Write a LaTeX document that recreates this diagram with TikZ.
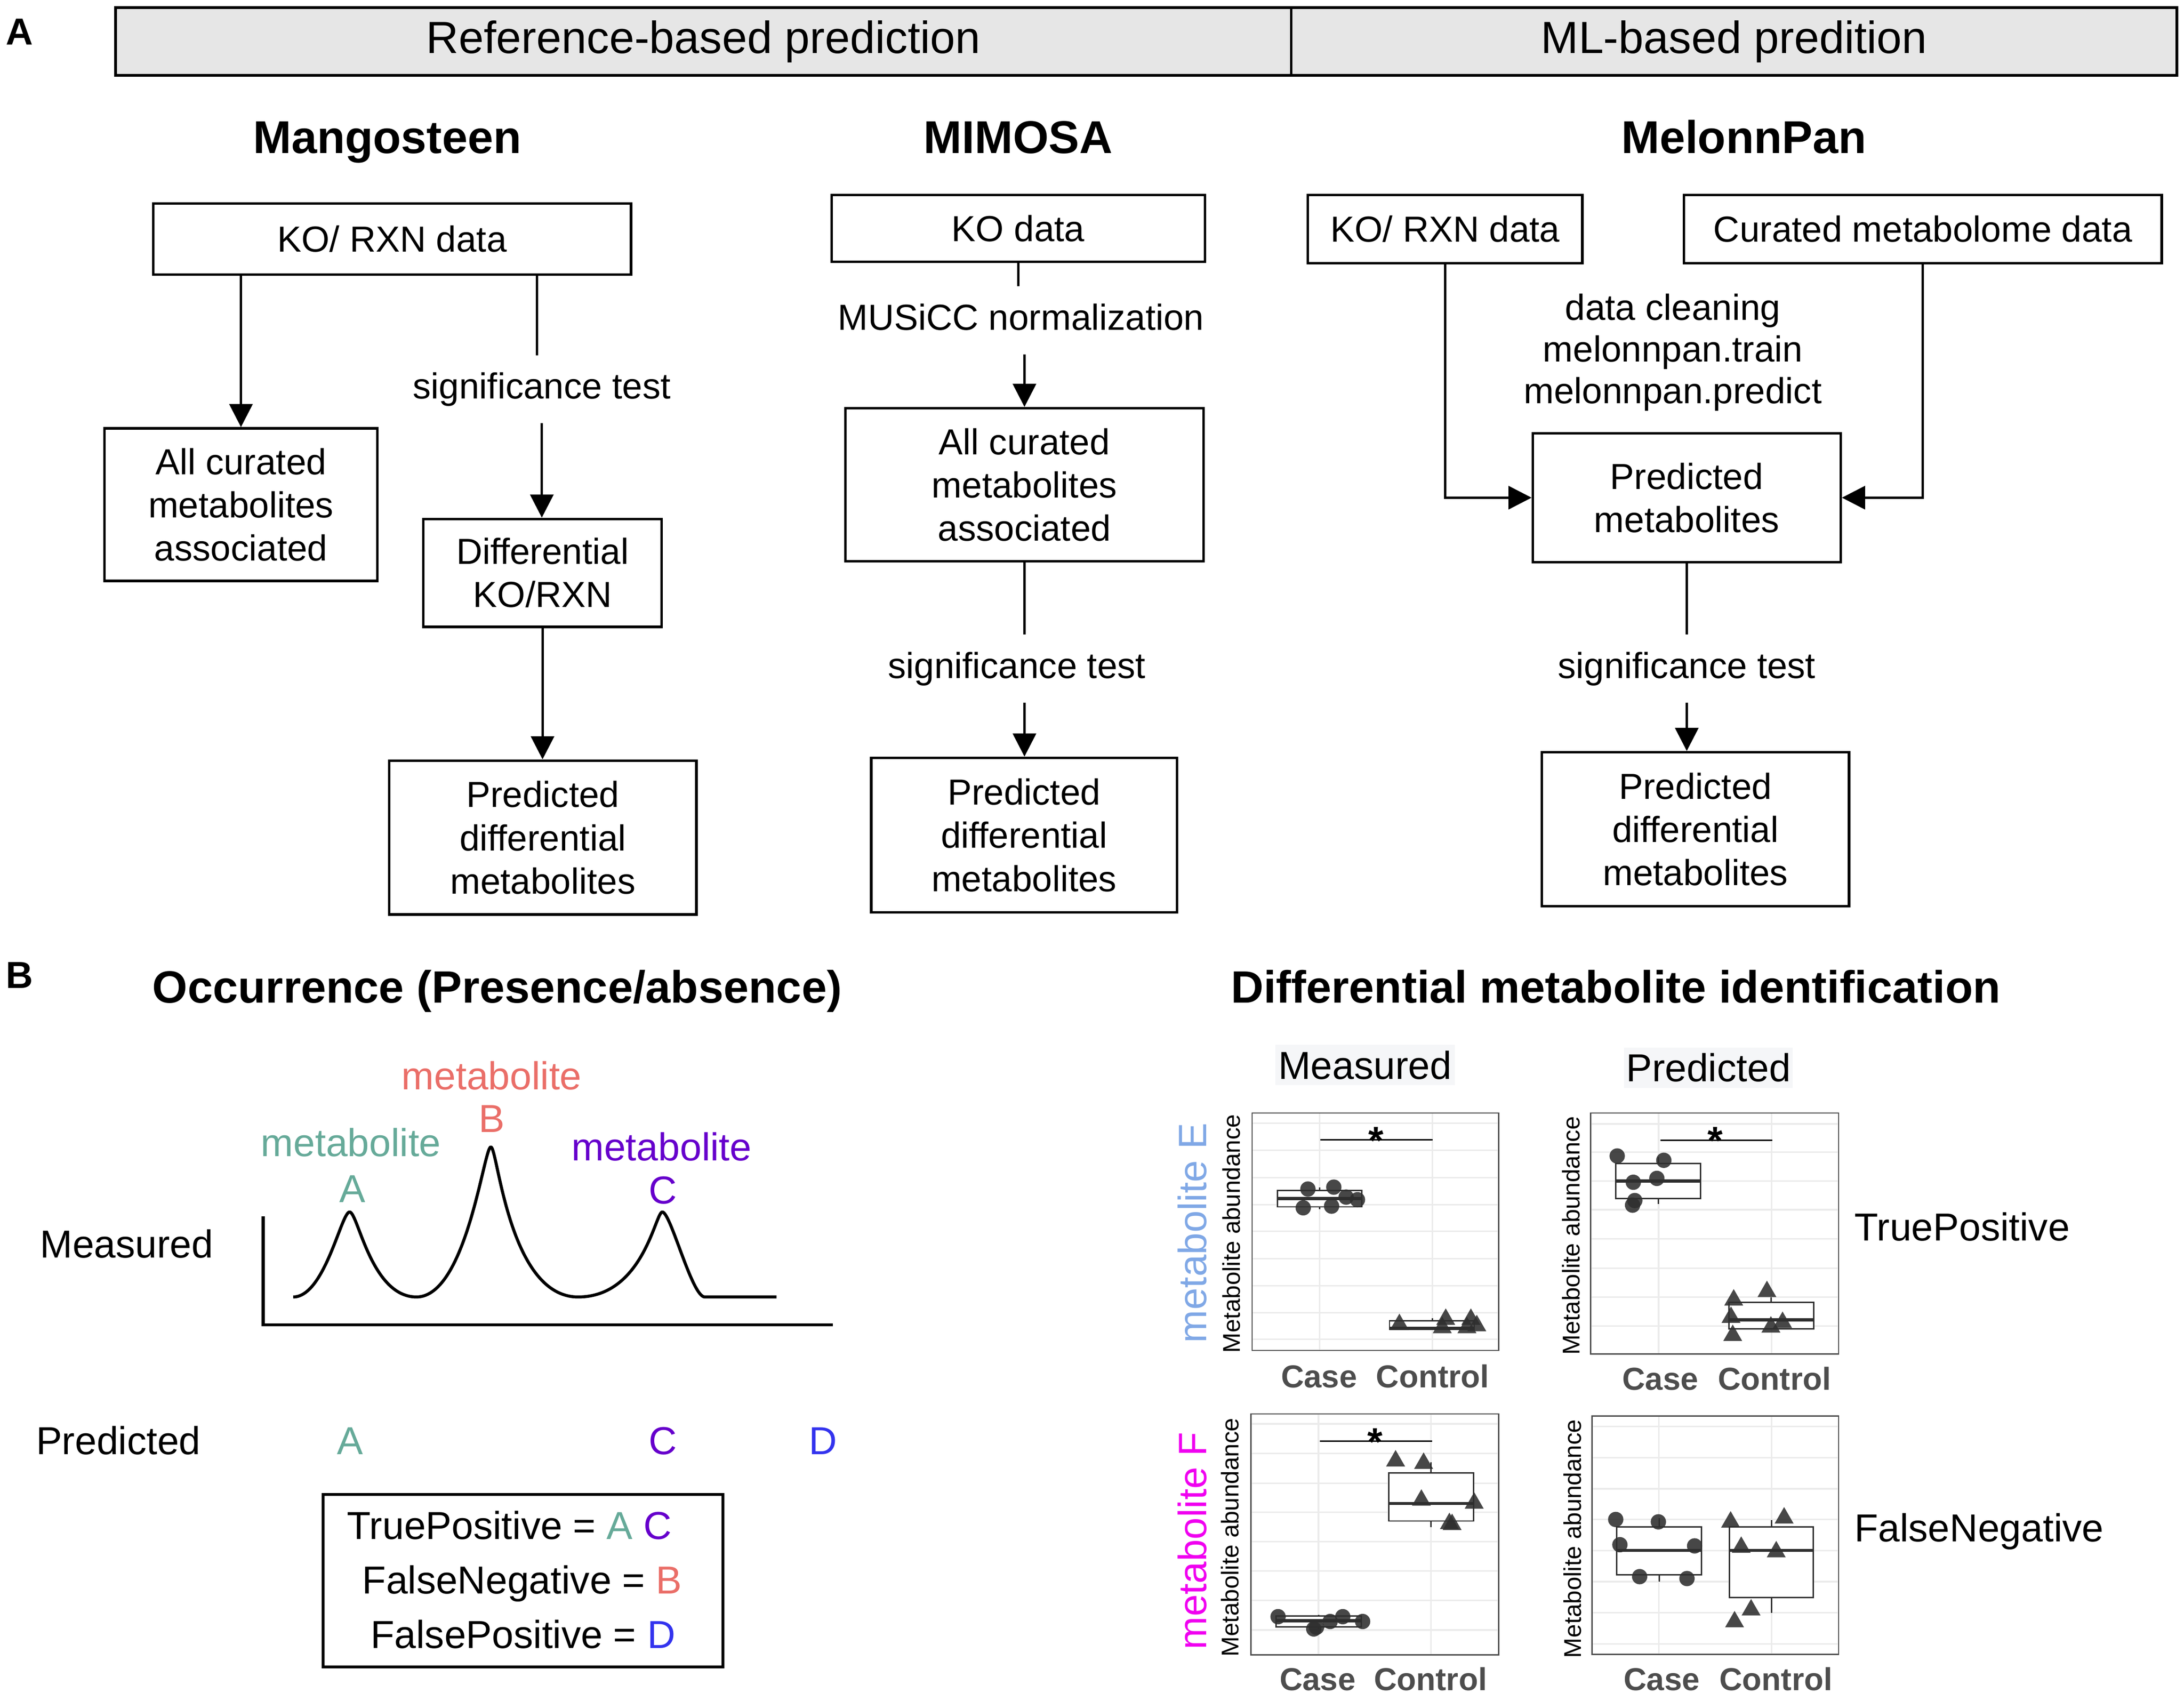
\documentclass[tikz,border=0pt]{standalone}
\usepackage{fontspec}
\setmainfont{Liberation Sans}
\usetikzlibrary{arrows.meta}
\definecolor{hdrgray}{HTML}{E6E6E6}
\definecolor{cteal}{HTML}{66AA99}
\definecolor{csalmon}{HTML}{EA6E68}
\definecolor{cpurple}{HTML}{6600CC}
\definecolor{cblue}{HTML}{3333EE}
\definecolor{cmetE}{HTML}{80A8E6}
\definecolor{cmetF}{HTML}{F000F0}
\definecolor{axgray}{HTML}{4D4D4D}
\definecolor{gridc}{HTML}{EBEBEB}
\definecolor{framec}{HTML}{4D4D4D}
\definecolor{bgfaint}{HTML}{F5F6F8}
\definecolor{ptc}{HTML}{2E2E2E}
\begin{document}
\begin{tikzpicture}[x=0.5pt, y=-0.5pt,
  fbox/.style={draw, line width=0.9pt, align=center, inner sep=0pt, font=\fontsize{13}{15.5}\selectfont},
  hdrbox/.style={draw, line width=1pt, fill=hdrgray, inner sep=0pt, minimum height=24.25pt, font=\fontsize{16.2}{19}\selectfont},
  ttl/.style={anchor=base, font=\bfseries\fontsize{16.5}{19}\selectfont},
  lbl/.style={font=\fontsize{13}{15}\selectfont, text height=9.5pt, text depth=2.7pt, inner xsep=0pt, inner ysep=5.9pt},
  arr/.style={-{Triangle[length=8.3pt,width=8.3pt]}, line width=0.9pt},
  conn/.style={line width=0.9pt},
  pnl/.style={font=\bfseries\fontsize{13.5}{16}\selectfont, inner sep=0pt},
  btxt/.style={anchor=base, inner sep=0pt, font=\fontsize{14}{17}\selectfont},
  btitle/.style={anchor=base, inner sep=0pt, font=\bfseries\fontsize{16.25}{19}\selectfont},
  curve/.style={line width=1.1pt, line join=round},
  grid/.style={draw=gridc, line width=0.55pt},
  frame/.style={draw=framec, line width=0.45pt},
  bx/.style={draw=ptc, line width=0.5pt},
  bxfill/.style={draw=ptc, fill=white, line width=0.5pt},
  med/.style={draw=ptc, line width=1.1pt},
  mk/.style={fill=ptc, fill opacity=0.88},
  sigbar/.style={draw=black, line width=0.6pt},
  star/.style={inner sep=0pt, font=\bfseries\fontsize{14}{16}\selectfont},
  cc/.style={anchor=base, inner sep=0pt, text=axgray, font=\bfseries\fontsize{11.4}{13}\selectfont},
  yab/.style={rotate=90, inner sep=0pt, font=\fontsize{8.7}{10}\selectfont},
  metlab/.style={rotate=90, inner sep=0pt, font=\fontsize{14.2}{17}\selectfont},
  colhead/.style={fill=bgfaint, inner sep=0pt, minimum height=14.5pt, font=\fontsize{14}{17}\selectfont}
]
\useasboundingbox (0,0) rectangle (1568,1215.29);

% ---------------- Panel A ----------------
\node[pnl] (lblA) at (14,23) {A};
\node[hdrbox, minimum width=422pt] (hL) at (505,29.75) {Reference-based prediction};
\node[hdrbox, minimum width=318pt] (hR) at (1245,29.75) {ML-based predition};

\node[ttl] (tMang) at (278,110) {Mangosteen};
\node[ttl] (tMim) at (731,110) {MIMOSA};
\node[ttl] (tMel) at (1252,110) {MelonnPan};

% Mangosteen
\node[fbox, minimum width=171.5pt, minimum height=25.5pt] (mKO) at (281.5,171.5) {KO/ RXN data};
\node[fbox, minimum width=98pt, minimum height=54.75pt] (mAll) at (173,362.25) {All curated\\metabolites\\associated};
\node[lbl] (s1) at (389,279.5) {significance test};
\node[fbox, minimum width=85.5pt, minimum height=38.75pt] (mDiff) at (389.5,411.25) {Differential\\KO/RXN};
\node[fbox, minimum width=110.25pt, minimum height=55.25pt] (mPred) at (389.75,601.25) {Predicted\\differential\\metabolites};
\draw[arr] (mAll.north |- mKO.south) -- (mAll.north);
\draw[conn] ([xshift=-1.75pt]s1.north |- mKO.south) -- ([xshift=-1.75pt]s1.north);
\draw[arr] (s1.south) -- (s1.south |- mDiff.north);
\draw[arr] (mDiff.south) -- (mDiff.south |- mPred.north);

% MIMOSA
\node[fbox, minimum width=134pt, minimum height=24pt] (xKO) at (731,164) {KO data};
\node[lbl] (s0) at (733,230) {MUSiCC normalization};
\node[fbox, minimum width=128.5pt, minimum height=55pt] (xAll) at (735.5,348) {All curated\\metabolites\\associated};
\node[lbl] (s2) at (730,480) {significance test};
\node[fbox, minimum width=109.75pt, minimum height=55.5pt] (xPred) at (735.25,599.5) {Predicted\\differential\\metabolites};
\draw[conn] (xKO.south) -- (xKO.south |- s0.north);
\draw[arr] (xAll.north |- s0.south) -- (xAll.north);
\draw[conn] (xAll.south) -- (xAll.south |- s2.north);
\draw[arr] (xAll.south |- s2.south) -- (xAll.south |- xPred.north);

% MelonnPan
\node[fbox, minimum width=98.5pt, minimum height=24.5pt] (nKO) at (1037.5,164.5) {KO/ RXN data};
\node[fbox, minimum width=171.5pt, minimum height=24.5pt] (nCur) at (1380.5,164.5) {Curated metabolome data};
\node[align=center, inner sep=0pt, font=\fontsize{13}{15}\selectfont] (dcl) at (1201,253) {data cleaning\\melonnpan.train\\melonnpan.predict};
\node[fbox, minimum width=110.5pt, minimum height=46.25pt] (nPM) at (1211,357.25) {Predicted\\metabolites};
\node[lbl] (s3) at (1211,480) {significance test};
\node[fbox, minimum width=110.25pt, minimum height=55.25pt] (nPred) at (1217.25,595.25) {Predicted\\differential\\metabolites};
\draw[arr] (nKO.south) |- (nPM.west);
\draw[arr] (nCur.south) |- (nPM.east);
\draw[conn] (nPM.south) -- (nPM.south |- s3.north);
\draw[arr] (nPM.south |- s3.south) -- (nPM.south |- nPred.north);

% ---------------- Panel B left ----------------
\node[pnl] (lblB) at (14,700) {B};
\node[btitle] (tOcc) at (357,720) {Occurrence (Presence/absence)};

\node[btxt, text=csalmon] (mBt) at (353,782) {metabolite};
\node[btxt, text=csalmon] (mBl) at (353,812.6) {B};
\node[btxt, text=cteal] (mAt) at (252,830) {metabolite};
\node[btxt, text=cteal] (mAl) at (253,863) {A};
\node[btxt, text=cpurple] (mCt) at (475,833) {metabolite};
\node[btxt, text=cpurple] (mCl) at (476,864) {C};
\node[btxt] (measL) at (91,903) {Measured};

\draw[line width=1.1pt] (189,873) -- (189,951) -- (598,951);
\draw[curve] (210.5,931) .. controls (233.2,931) and (245,870) .. (251,870)
  .. controls (257,870) and (266.3,931) .. (299,931)
  .. controls (335,931) and (347.4,823.3) .. (352.4,823.3)
  .. controls (357.4,823.3) and (365,931) .. (415,931)
  .. controls (462,931) and (470.5,870) .. (475.5,870)
  .. controls (481.5,870) and (496.7,931) .. (506,931)
  -- (557.5,931);

\node[btxt] (predL) at (85,1044) {Predicted};
\node[btxt, text=cteal] (pAl) at (251.5,1044) {A};
\node[btxt, text=cpurple] (pCl) at (476,1044) {C};
\node[btxt, text=cblue] (pDl) at (591,1044) {D};

\node[draw, line width=1.1pt, minimum width=143.5pt, minimum height=61.9pt, inner sep=0pt] (cmp) at (375.5,1134.6) {};
\node[btxt, anchor=base west] (tp) at (248.8,1105) {TruePositive = {\color{cteal}A} {\color{cpurple}C}};
\node[btxt, anchor=base west] (fn) at (259.7,1144) {FalseNegative = {\color{csalmon}B}};
\node[btxt, anchor=base west] (fp) at (265.8,1183) {FalsePositive = {\color{cblue}D}};

% ---------------- Panel B right ----------------
\node[btitle] (tDiff) at (1160,720) {Differential metabolite identification};
\node[colhead, minimum width=64.5pt] (hMeas) at (980,764.5) {Measured};
\node[colhead, minimum width=60.5pt] (hPred) at (1226.5,766.5) {Predicted};

\node[metlab, text=cmetE] (metE) at (856,885) {metabolite E};
\node[metlab, text=cmetF] (metF) at (856,1106) {metabolite F};
\node[yab] (ya1) at (884,885.5) {Metabolite abundance};
\node[yab] (ya2) at (1128,887) {Metabolite abundance};
\node[yab] (ya3) at (883,1103.5) {Metabolite abundance};
\node[yab] (ya4) at (1129,1104.5) {Metabolite abundance};

\node[btxt, anchor=base west] (tpR) at (1331,890.5) {TruePositive};
\node[btxt, anchor=base west] (fnR) at (1331,1106.5) {FalseNegative};

% Plot 1
\begin{scope}[shift={(899,799)}, x=88.5pt, y=-85.2pt]
  \fill[white] (0,0) rectangle (1,1);
  \foreach \g in {0.043,0.156,0.272,0.386,0.498,0.613,0.727,0.841,0.953} \draw[grid] (0,\g) -- (1,\g);
  \foreach \g in {0.274,0.731} \draw[grid] (\g,0) -- (\g,1);
  \draw[bx] (0.274,0.313) -- (0.274,0.405);
  \draw[bxfill] (0.102,0.326) rectangle (0.444,0.395);
  \draw[med] (0.102,0.360) -- (0.444,0.360);
  \draw[bx] (0.731,0.865) -- (0.731,0.912);
  \draw[bxfill] (0.557,0.875) rectangle (0.901,0.912);
  \draw[med] (0.557,0.906) -- (0.901,0.906);
  \foreach \a/\b in {0.226/0.320,0.331/0.312,0.381/0.354,0.427/0.365,0.207/0.399,0.322/0.392}
    \fill[mk] (\a,\b) circle[radius=2.75pt];
  \foreach \a/\b in {0.597/0.887,0.785/0.865,0.771/0.900,0.887/0.865,0.871/0.900,0.911/0.892}
    \fill[mk] (\a,\b) ++(-3.4pt,-2.3pt) -- ++(6.8pt,0pt) -- ++(-3.4pt,5.9pt) -- cycle;
  \draw[sigbar] (0.277,0.1125) -- (0.732,0.1125);
  \node[star] (st1) at ([yshift=-3pt]0.502,0.08) {*};
  \draw[frame] (0,0) rectangle (1,1);
\end{scope}
\node[cc] (c1a) at (947,996) {Case};
\node[cc] (c1b) at (1028.5,996) {Control};

% Plot 2
\begin{scope}[shift={(1142,799)}, x=89pt, y=-86.5pt]
  \fill[white] (0,0) rectangle (1,1);
  \foreach \g in {0.045,0.162,0.282,0.401,0.522,0.643,0.764,0.884} \draw[grid] (0,\g) -- (1,\g);
  \foreach \g in {0.274,0.730} \draw[grid] (\g,0) -- (\g,1);
  \draw[bx] (0.273,0.183) -- (0.273,0.377);
  \draw[bxfill] (0.101,0.210) rectangle (0.443,0.355);
  \draw[med] (0.101,0.282) -- (0.443,0.282);
  \draw[bx] (0.727,0.764) -- (0.727,0.895);
  \draw[bxfill] (0.557,0.785) rectangle (0.899,0.895);
  \draw[med] (0.557,0.858) -- (0.899,0.858);
  \foreach \a/\b in {0.107/0.178,0.295/0.196,0.172/0.287,0.267/0.271,0.178/0.363,0.169/0.382}
    \fill[mk] (\a,\b) circle[radius=2.75pt];
  \foreach \a/\b in {0.577/0.772,0.711/0.737,0.566/0.844,0.573/0.919,0.727/0.884,0.774/0.865}
    \fill[mk] (\a,\b) ++(-3.4pt,-2.3pt) -- ++(6.8pt,0pt) -- ++(-3.4pt,5.9pt) -- cycle;
  \draw[sigbar] (0.281,0.113) -- (0.732,0.113);
  \node[star] (st2) at ([yshift=-3pt]0.503,0.08) {*};
  \draw[frame] (0,0) rectangle (1,1);
\end{scope}
\node[cc] (c2a) at (1192,997.7) {Case};
\node[cc] (c2b) at (1274,997.7) {Control};

% Plot 3
\begin{scope}[shift={(898,1015)}, x=89pt, y=-86.5pt]
  \fill[white] (0,0) rectangle (1,1);
  \foreach \g in {0.041,0.164,0.287,0.408,0.530,0.651,0.774,0.896} \draw[grid] (0,\g) -- (1,\g);
  \foreach \g in {0.273,0.727} \draw[grid] (\g,0) -- (\g,1);
  \draw[bx] (0.273,0.833) -- (0.273,0.892);
  \draw[bxfill] (0.101,0.839) rectangle (0.446,0.884);
  \draw[med] (0.101,0.858) -- (0.446,0.858);
  \draw[bx] (0.727,0.201) -- (0.727,0.470);
  \draw[bxfill] (0.557,0.244) rectangle (0.899,0.444);
  \draw[med] (0.557,0.371) -- (0.899,0.371);
  \foreach \a/\b in {0.110/0.841,0.254/0.892,0.320/0.861,0.371/0.841,0.451/0.861,0.265/0.885}
    \fill[mk] (\a,\b) circle[radius=2.75pt];
  \foreach \a/\b in {0.584/0.191,0.697/0.201,0.688/0.354,0.901/0.366,0.801/0.451,0.812/0.455}
    \fill[mk] (\a,\b) ++(-3.4pt,-2.3pt) -- ++(6.8pt,0pt) -- ++(-3.4pt,5.9pt) -- cycle;
  \draw[sigbar] (0.278,0.113) -- (0.732,0.113);
  \node[star] (st3) at ([yshift=-3pt]0.502,0.081) {*};
  \draw[frame] (0,0) rectangle (1,1);
\end{scope}
\node[cc] (c3a) at (946,1213.5) {Case};
\node[cc] (c3b) at (1027,1213.5) {Control};

% Plot 4
\begin{scope}[shift={(1143,1016.5)}, x=88.5pt, y=-85.5pt]
  \fill[white] (0,0) rectangle (1,1);
  \foreach \g in {0.043,0.175,0.305,0.434,0.564,0.695,0.826,0.957} \draw[grid] (0,\g) -- (1,\g);
  \foreach \g in {0.271,0.728} \draw[grid] (\g,0) -- (\g,1);
  \draw[bx] (0.272,0.429) -- (0.272,0.695);
  \draw[bxfill] (0.100,0.466) rectangle (0.443,0.666);
  \draw[med] (0.100,0.564) -- (0.443,0.564);
  \draw[bx] (0.728,0.437) -- (0.728,0.826);
  \draw[bxfill] (0.557,0.466) rectangle (0.898,0.762);
  \draw[med] (0.557,0.564) -- (0.898,0.564);
  \foreach \a/\b in {0.096/0.434,0.269/0.444,0.113/0.540,0.416/0.545,0.193/0.674,0.385/0.682}
    \fill[mk] (\a,\b) circle[radius=2.75pt];
  \foreach \a/\b in {0.562/0.441,0.779/0.424,0.605/0.547,0.747/0.566,0.645/0.810,0.578/0.860}
    \fill[mk] (\a,\b) ++(-3.4pt,-2.3pt) -- ++(6.8pt,0pt) -- ++(-3.4pt,5.9pt) -- cycle;
  \draw[frame] (0,0) rectangle (1,1);
\end{scope}
\node[cc] (c4a) at (1193,1213.5) {Case};
\node[cc] (c4b) at (1275,1213.5) {Control};

\end{tikzpicture}
\end{document}
